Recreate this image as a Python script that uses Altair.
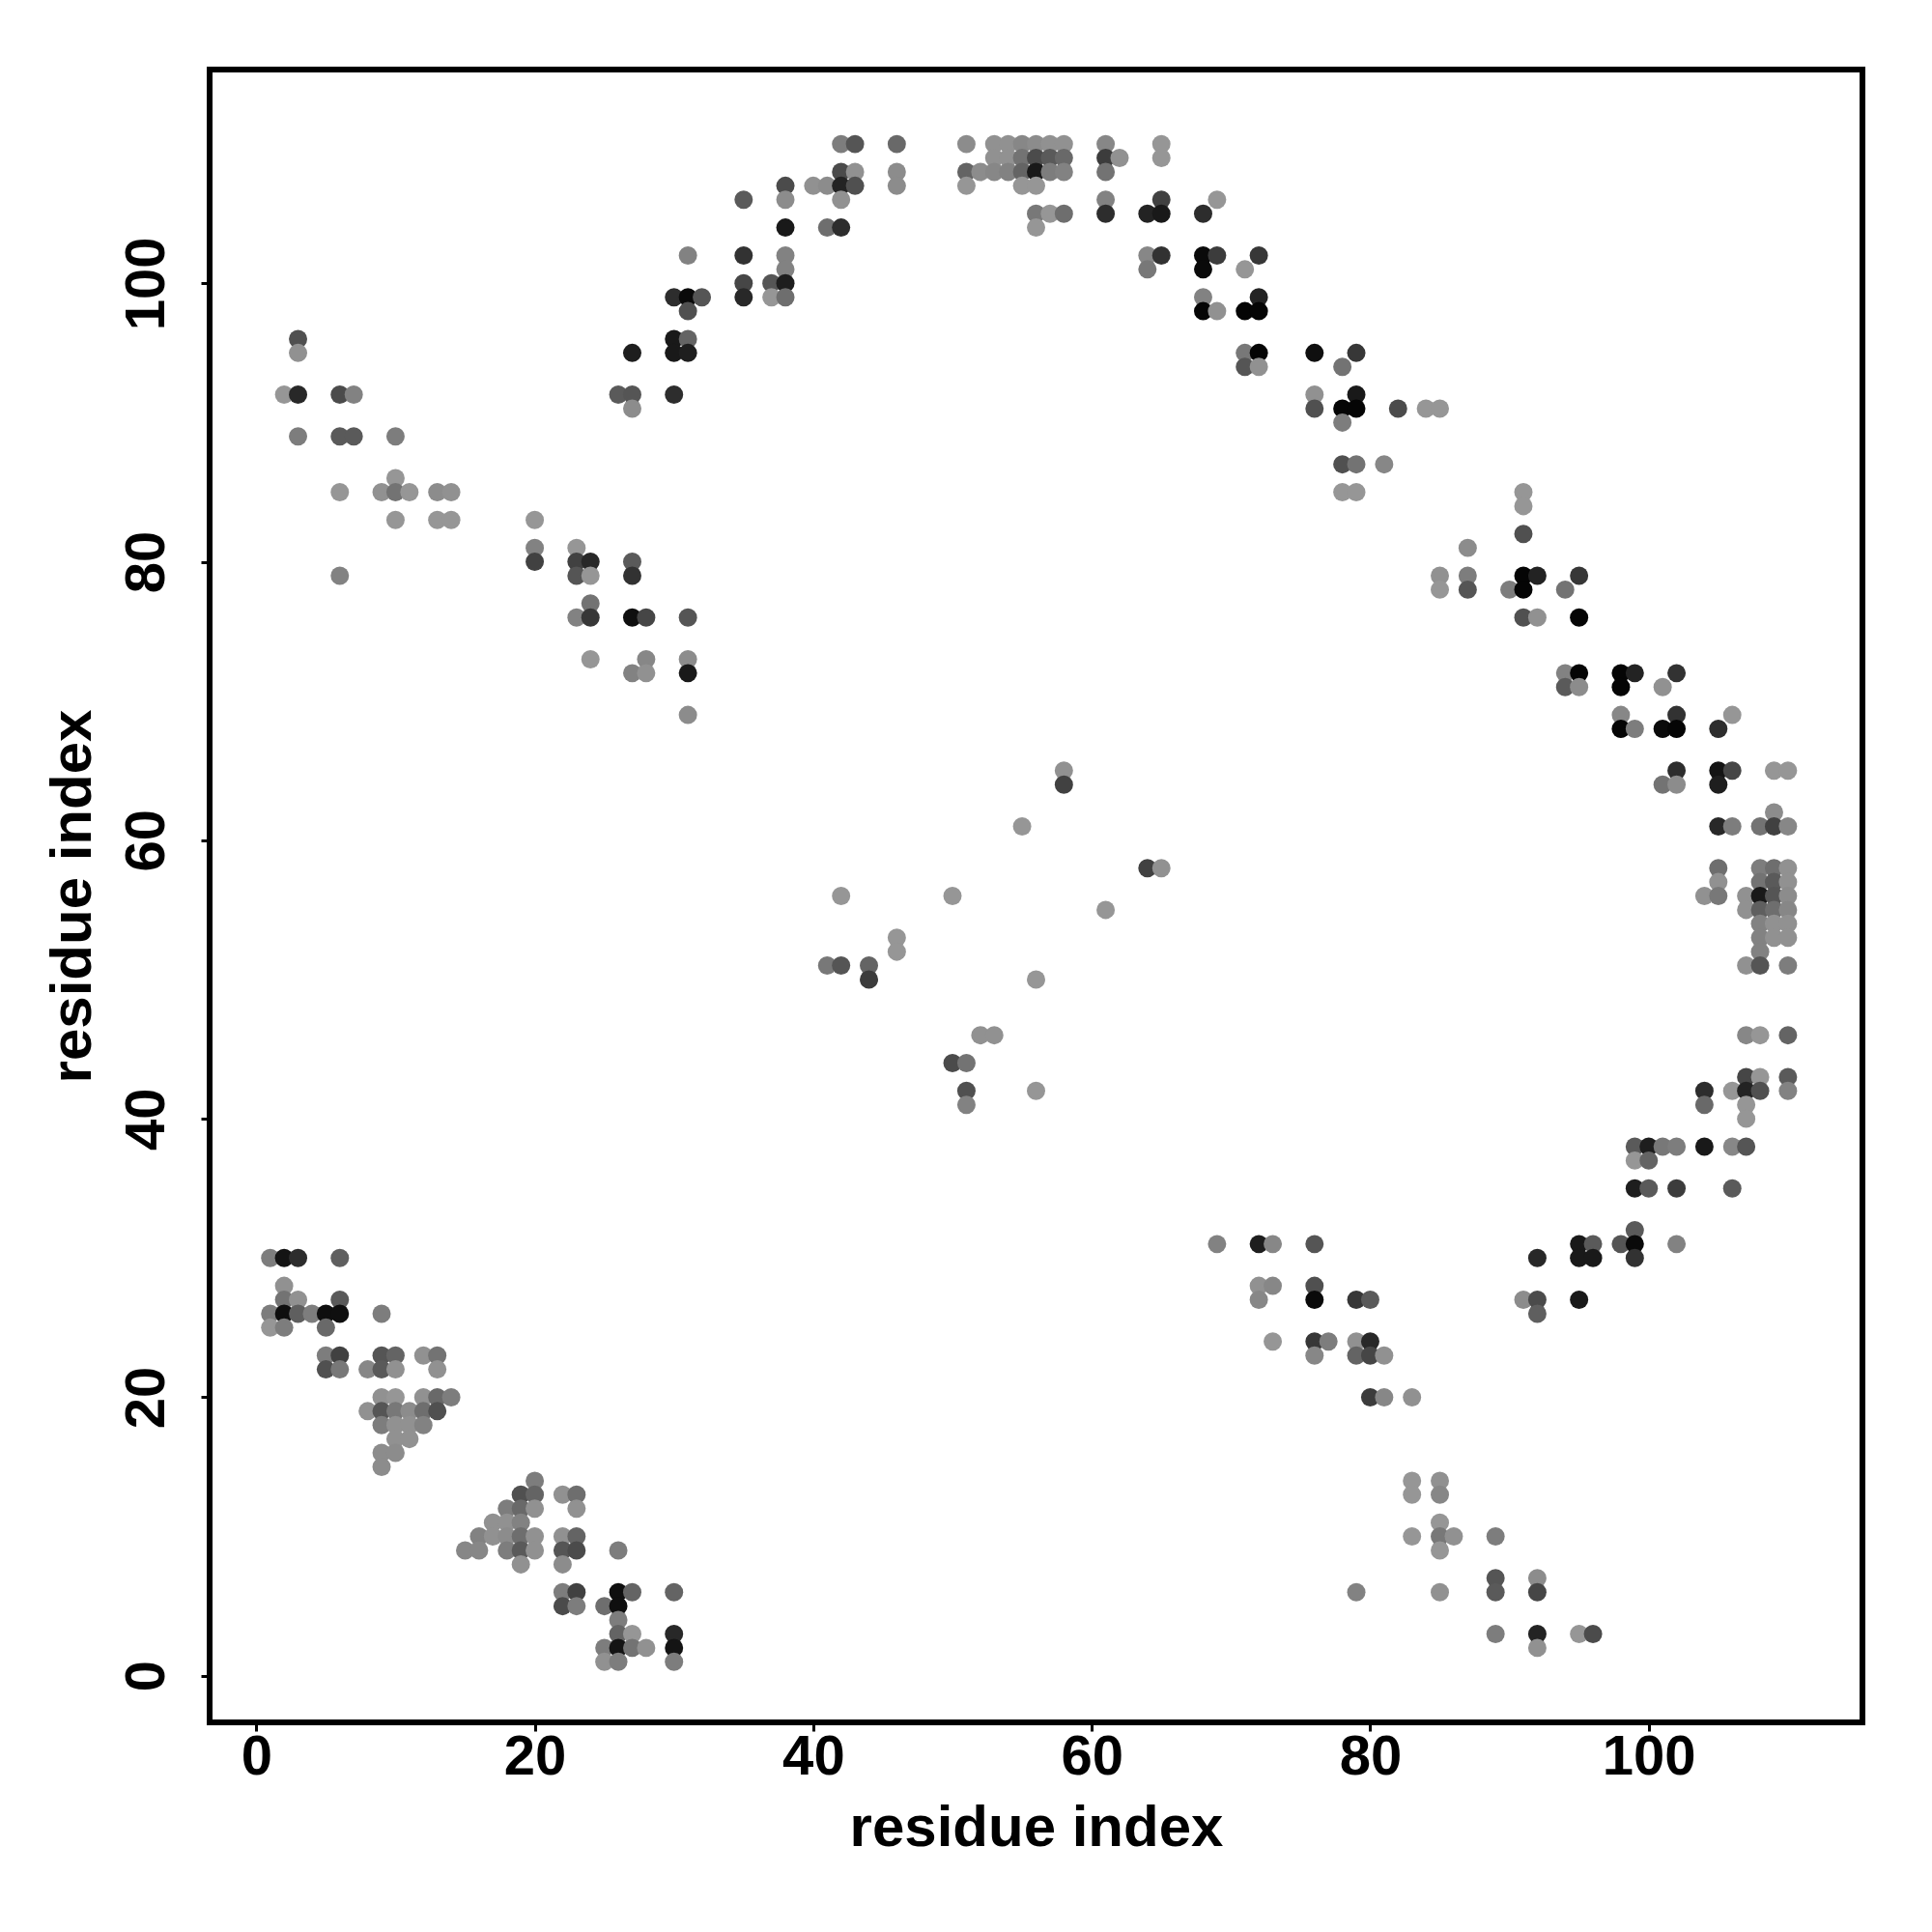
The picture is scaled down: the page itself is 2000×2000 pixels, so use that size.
import altair as alt
import pandas as pd

row_index = [110,109,108,107,106,105,104,102,101,100,99,98,96,95,94,92,91,90,89,87,86,85,84,83,82,81,80,79,78,77,76,73,72,71,69,68,65,64,62,61,58,57,56,55,54,53,52,51,50,46,44,43,42,41,40,38,37,35,32,31,30,28,27,26,25,24,23,22,20,19,18,17,16,15,14,13,12,11,10,9,8,7,6,5,4,3,2,1]

row_cols = [
 [42,43,46,51,53,54,55,56,57,58,61,65],
 [53,54,55,56,57,58,61,62,65],
 [42,43,46,51,52,53,54,55,56,57,58,61],
 [38,40,41,42,43,46,51,55,56],
 [35,38,42,61,65,69],
 [56,57,58,61,64,65,68],
 [38,41,42,56],
 [31,35,38,64,65,68,69,72],
 [38,64,68,71],
 [35,37,38],
 [30,31,32,35,37,38,68,72],
 [31,68,69,71,72],
 [3,30,31],
 [3,27,30,31,71,72,76,79],
 [71,72,78],
 [2,3,6,7,26,27,30,76,79],
 [27,76,78,79,82,84,85],
 [78],
 [3,6,7,10],
 [78,79,81],
 [10],
 [6,9,10,11,13,14,78,79,91],
 [91],
 [10,13,14,20],
 [91],
 [20,23,87],
 [20,23,24,27],
 [6,23,24,27,85,87,91,92,95],
 [85,87,90,91,94],
 [24],
 [23,24,27,28,31,91,92,95],
 [24,28,31],
 [27,28,31,94,95,98,99,102],
 [94,95,98,101],
 [31,98,102,106],
 [98,99,101,102,105],
 [58,102,105,106,109,110],
 [58,101,102,105],
 [109],
 [55,105,106,108,109,110],
 [64,65,105,108,109,110],
 [105,108,109,110],
 [42,50,104,105,107,108,109,110],
 [61,107,108,109,110],
 [108,109,110],
 [46,108,109,110],
 [46,108],
 [41,42,44,107,108,110],
 [44,56],
 [52,53,107,108,110],
 [50,51],
 [107,108,110],
 [51,56,104,106,107,108,110],
 [51,104,107],
 [107],
 [99,100,101,102,104,106,107],
 [99,100],
 [99,100,102,106],
 [99],
 [69,72,73,76,95,96,98,99,102],
 [1,2,3,6,92,95,96,99],
 [2,72,73,76],
 [2,3,6,72,76,79,80,91,92,95],
 [1,2,3,4,5,6,9,92],
 [1,2,5],
 [73,76,77,79,80],
 [5,6,9,10,12,13,76,79,80,81],
 [5,6,8,9,10,13],
 [9,10,12,13,14,80,81,83],
 [8,9,10,11,12,13],
 [9,10,11,12],
 [10,11],
 [9,10],
 [9],
 [20,83,85],
 [19,20,22,23,83,85],
 [18,19,20,23],
 [17,18,19,85],
 [16,17,18,19,20,22,23,83,85,86,89],
 [15,16,18,19,20,22,23,26,85],
 [19,22],
 [89,92],
 [22,23,26,27,30,79,85,89,92],
 [22,23,25,26],
 [26],
 [26,27,30,89,92,95,96],
 [25,26,27,28,30,92],
 [25,26,30],
]

row_greys = [
 [125,85,105,140,145,145,135,140,145,145,135,150],
 [145,145,115,75,90,105,60,145,150],
 [75,145,140,100,140,135,130,100,25,125,130,115],
 [75,145,140,35,80,140,150,150,150],
 [90,140,145,130,65,150],
 [120,150,110,45,35,25,45],
 [25,110,45,150],
 [130,50,130,135,50,10,60,55],
 [130,120,10,150],
 [70,85,30],
 [45,10,85,40,150,110,130,35],
 [80,5,145,5,5],
 [80,25,100],
 [145,30,25,30,120,5,15,55],
 [85,145,115],
 [150,40,75,130,90,85,45,145,25],
 [140,80,5,5,75,150,150],
 [125],
 [125,90,90,125],
 [80,115,135],
 [150],
 [150,145,115,150,140,145,150,150,150],
 [150],
 [150,150,150,150],
 [80],
 [130,150,140],
 [65,65,40,90],
 [130,85,150,50,145,125,5,35,55],
 [150,85,125,5,115],
 [115],
 [130,55,15,70,85,80,145,5],
 [150,135,140],
 [130,145,25,130,5,5,35,50],
 [90,140,5,145],
 [140,135,50,150],
 [5,125,10,5,45],
 [145,45,20,70,150,150],
 [65,115,140,30],
 [140],
 [150,40,125,115,65,135],
 [65,145,110,125,110,145],
 [145,115,90,145],
 [150,150,145,120,145,25,85,140],
 [150,145,95,110,135],
 [130,145,145],
 [150,130,145,145],
 [150,130],
 [120,85,100,145,85,125],
 [60,150],
 [145,145,135,150,100],
 [75,115],
 [70,150,90],
 [80,150,45,150,35,80,130],
 [130,105,150],
 [150],
 [90,30,120,125,25,135,85],
 [150,100],
 [30,90,60,90],
 [90],
 [130,30,135,85,25,90,85,10,130],
 [125,20,45,95,40,25,25,50],
 [145,145,135,80],
 [115,145,90,135,10,55,90,140,75,25],
 [125,15,95,125,15,15,125,95],
 [150,125,105],
 [150,55,125,145,40],
 [125,65,85,100,145,115,135,100,70,145],
 [80,120,135,90,145,145],
 [145,150,145,105,125,60,135,145],
 [145,85,120,140,110,80],
 [125,145,145,130],
 [145,145],
 [140,140],
 [140],
 [125,150,145],
 [80,100,145,110,150,135],
 [125,105,145,145],
 [145,145,130,150],
 [130,145,140,110,145,145,100,150,120,145,125],
 [135,135,125,90,145,85,75,125,150],
 [145,140],
 [85,140],
 [125,65,15,100,100,130,145,90,70],
 [75,125,110,15],
 [125],
 [100,150,40,125,35,150,75],
 [125,20,115,145,20,145],
 [145,125,125],
]

tick_values = [0, 20, 40, 60, 80, 100]
axis_domain = [-3.35, 115.35]
axis_title = "residue index"

points = pd.DataFrame(
    [
        {"i": c, "j": r, "grey": g}
        for r, cs, gs in zip(row_index, row_cols, row_greys)
        for c, g in zip(cs, gs)
    ]
)

def make_axis(angle=0, **kw):
    return alt.Axis(
        values=tick_values,
        title=axis_title,
        grid=False,
        domain=False,
        ticks=True,
        tickColor="black",
        tickWidth=3,
        tickSize=9,
        labelColor="black",
        labelFont="Liberation Sans",
        labelFontWeight="bold",
        labelFontSize=58,
        titleColor="black",
        titleFont="Liberation Sans",
        titleFontWeight="bold",
        titleFontSize=60,
        labelAngle=angle,
        **kw,
    )

chart = (
    alt.Chart(points)
    .mark_circle(size=360, opacity=1)
    .encode(
        x=alt.X("i:Q", scale=alt.Scale(domain=axis_domain, nice=False, zero=False),
                axis=make_axis(labelPadding=-2, titlePadding=15)),
        y=alt.Y("j:Q", scale=alt.Scale(domain=axis_domain, nice=False, zero=False),
                axis=make_axis(angle=270, labelPadding=27, titlePadding=17,
                               labelAlign="center", labelBaseline="bottom")),
        color=alt.Color("grey:Q", legend=None,
                        scale=alt.Scale(domain=[0, 255], range=["#000000", "#ffffff"],
                                        interpolate="rgb")),
    )
    .properties(
        width=1711,
        height=1711,
        autosize=alt.AutoSizeParams(type="none"),
        padding={"left": 209, "top": 64, "right": 60, "bottom": 200},
        background="white",
    )
    .configure_view(stroke="black", strokeWidth=6, fill="white")
)

chart.save("out.html", embed_options={"renderer": "svg", "actions": False})
